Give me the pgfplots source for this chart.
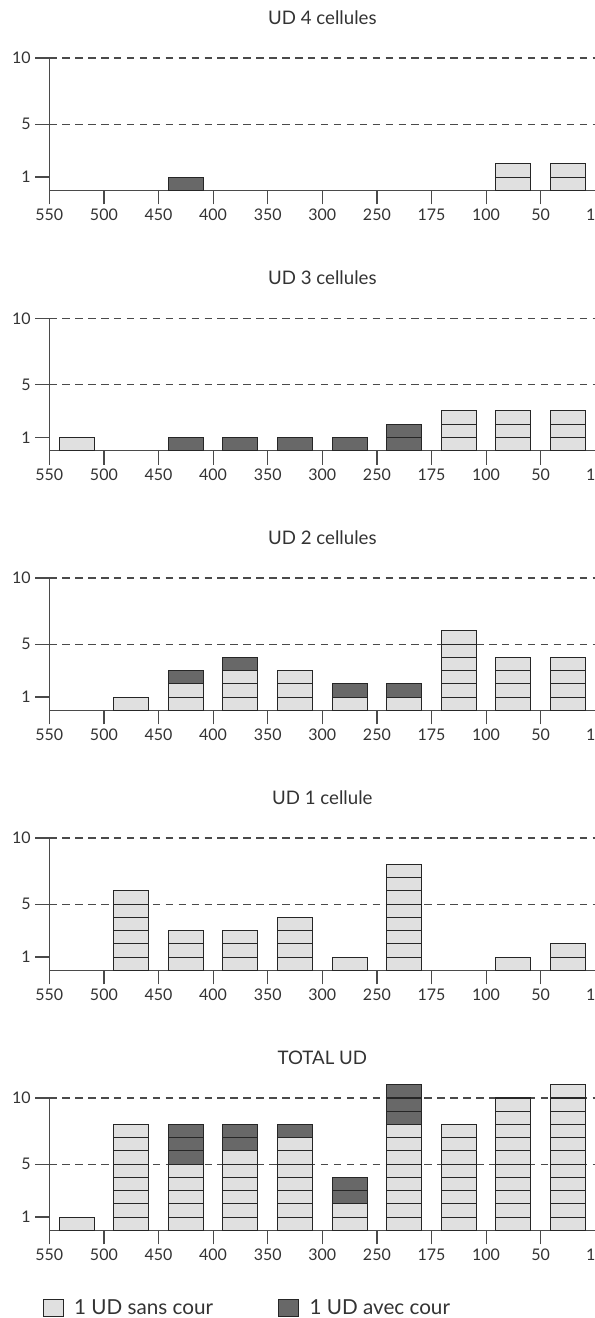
\documentclass[border=0pt]{standalone}
\usepackage{fontspec}
\setmainfont{Lato}
\usepackage{pgfplots}
\usepackage{pgfplotstable}
\pgfplotsset{compat=1.18}

\definecolor{lightg}{HTML}{E0E0E0}
\definecolor{darkg}{HTML}{686868}
\definecolor{edge}{HTML}{262626}
\definecolor{axisc}{HTML}{4A4A4A}
\definecolor{txt}{HTML}{333333}

% x = middle of the class, L = units sans cour, D = units avec cour
\pgfplotstableread{
x   L D
0.5 0 0
1.5 0 0
2.5 0 1
3.5 0 0
4.5 0 0
5.5 0 0
6.5 0 0
7.5 0 0
8.5 2 0
9.5 2 0
}\udquatre
\pgfplotstableread{
x   L D
0.5 1 0
1.5 0 0
2.5 0 1
3.5 0 1
4.5 0 1
5.5 0 1
6.5 0 2
7.5 3 0
8.5 3 0
9.5 3 0
}\udtrois
\pgfplotstableread{
x   L D
0.5 0 0
1.5 1 0
2.5 2 1
3.5 3 1
4.5 3 0
5.5 1 1
6.5 1 1
7.5 6 0
8.5 4 0
9.5 4 0
}\uddeux
\pgfplotstableread{
x   L D
0.5 0 0
1.5 6 0
2.5 3 0
3.5 3 0
4.5 4 0
5.5 1 0
6.5 8 0
7.5 0 0
8.5 1 0
9.5 2 0
}\udun
\pgfplotstableread{
x   L D
0.5 1 0
1.5 8 0
2.5 5 3
3.5 6 2
4.5 7 1
5.5 2 2
6.5 8 3
7.5 8 0
8.5 10 0
9.5 11 0
}\udtotal

\pgfplotsset{
  unitbar/.style={ybar, bar width=26.25pt, bar shift=0pt, draw=edge, line width=0.8pt, forget plot},
  panel/.style={
    scale only axis, width=409.5pt, height=99.2pt,
    xmin=0, xmax=10, ymin=0, ymax=10, clip=false,
    axis lines=left, axis line style={-, draw=axisc, line width=0.9pt},
    xtick={0,...,10},
    xticklabels={550,500,450,400,350,300,250,175,100,50,10},
    ytick={1,5,10},
    extra y ticks={5,10}, extra y tick labels={},
    extra y tick style={grid=major},
    major grid style={draw=axisc, line width=0.9pt, dash pattern=on 5.6pt off 4.1pt},
    tick align=outside, major tick length=10.5pt,
    tick style={draw=axisc, line width=0.9pt},
    /pgf/number format/assume math mode=true,
    tick label style={font=\fontsize{12pt}{14pt}\selectfont, text=txt},
    title style={anchor=base, at={(0.5,1)}, yshift=19pt,
      font=\fontsize{14pt}{16pt}\selectfont, text=txt},
  },
}

% unit boxes, drawn from the highest layer down
\newcommand{\unitbars}[2]{%
  \pgfplotsinvokeforeach{#2}{%
    \addplot[unitbar, fill=lightg] table[x=x, y expr={(##1<=\thisrow{L}) ? ##1 : nan}] {#1};
    \addplot[unitbar, fill=darkg] table[x=x, y expr={((##1>\thisrow{L}) && (##1<=\thisrow{L}+\thisrow{D})) ? ##1 : nan}] {#1};
  }%
}

\begin{document}
\begin{tikzpicture}
\begin{axis}[panel, at={(36.98pt,-142.7pt)}, anchor=south west, title={UD 4 cellules}]
  \unitbars{\udquatre}{2,1}
\end{axis}
\begin{axis}[panel, at={(36.98pt,-337.9pt)}, anchor=south west, title={UD 3 cellules}]
  \unitbars{\udtrois}{3,2,1}
\end{axis}
\begin{axis}[panel, at={(36.98pt,-532.7pt)}, anchor=south west, title={UD 2 cellules}]
  \unitbars{\uddeux}{6,5,...,1}
\end{axis}
\begin{axis}[panel, at={(36.98pt,-727.7pt)}, anchor=south west, title={UD 1 cellule}]
  \unitbars{\udun}{8,7,...,1}
\end{axis}
\begin{axis}[panel, at={(36.98pt,-922.7pt)}, anchor=south west, title={TOTAL UD},
  legend style={at={(0,0)}, anchor=west, xshift=-5pt, yshift=-58pt,
    draw=none, fill=none, inner sep=0pt, legend columns=2,
    font=\fontsize{15.5pt}{18pt}\selectfont, text=txt,
    /tikz/every even column/.append style={column sep=47pt}},
  legend cell align=left,
  legend image code/.code={\draw[#1] (0pt,-6.4pt) rectangle (15pt,6.4pt);
    \path[draw=none, fill=none] (0pt,0pt) -- (21pt,0pt);}]
  \unitbars{\udtotal}{11,10,...,1}
  \addlegendimage{fill=lightg, draw=edge, line width=0.8pt}
  \addlegendentry{1 UD sans cour}
  \addlegendimage{fill=darkg, draw=edge, line width=0.8pt}
  \addlegendentry{1 UD avec cour}
\end{axis}
\pgfresetboundingbox
\path[use as bounding box] (0,0) rectangle (446.25pt,-988.5pt);
\end{tikzpicture}
\end{document}
